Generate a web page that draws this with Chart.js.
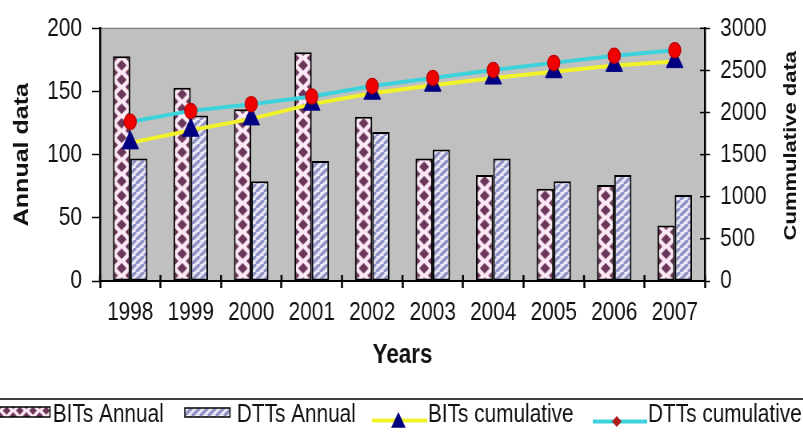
<!DOCTYPE html>
<html>
<head>
<meta charset="utf-8">
<script src="https://cdn.jsdelivr.net/npm/chart.js@4.4.1/dist/chart.umd.min.js"></script>
<style>
html,body{margin:0;padding:0;overflow:hidden;background:#fff;width:803px;height:437px}
#wrap{position:absolute;left:0;top:0;width:1004px;height:437px;transform:scaleX(0.8);transform-origin:0 0}
canvas{display:block}
</style>
</head>
<body>
<div id="wrap"><canvas id="c" width="1004" height="437"></canvas></div>
<script>
// ---------------- data ----------------
const years = ['1998','1999','2000','2001','2002','2003','2004','2005','2006','2007'];
const bitsAnnual = [178, 153, 136, 181, 130, 97, 84, 73, 76, 44];
const dttsAnnual = [97, 131, 79, 95, 118, 104, 97, 79, 84, 68];
const bitsCumulative = [1640, 1790, 1925, 2100, 2230, 2325, 2410, 2485, 2560, 2605];
const dttsCumulative = [1890, 2020, 2100, 2190, 2315, 2410, 2505, 2590, 2675, 2740];
const annualTicks = [0, 50, 100, 150, 200];
const cumulativeTicks = [0, 500, 1000, 1500, 2000, 2500, 3000];
const seriesNames = ['BITs Annual', 'DTTs Annual', 'BITs cumulative', 'DTTs cumulative'];
const xTitle = 'Years';
const yTitle = 'Annual data';
const y1Title = 'Cummulative data';

// ---------------- styling ----------------
const FONT = "'Liberation Sans', Arial, sans-serif";
const TXT = '#111';
const CAT_PCT = 0.57;
const PINK = '#fde9f6', PURPLE = '#6a3659';
const LAV = '#ecebf9', STRIPE = '#9195c6';

function makeDiamondTile() {
  const c = document.createElement('canvas');
  c.width = 22; c.height = 15;
  const g = c.getContext('2d');
  g.fillStyle = PINK; g.fillRect(0, 0, 22, 15);
  g.fillStyle = PURPLE;
  const hw = 6.3, hh = 5.4;
  const centers = [[11, 7.5], [0, 0], [22, 0], [0, 15], [22, 15]];
  centers.forEach(([cx, cy]) => {
    g.beginPath();
    g.moveTo(cx, cy - hh); g.lineTo(cx + hw, cy); g.lineTo(cx, cy + hh); g.lineTo(cx - hw, cy);
    g.closePath(); g.fill();
  });
  return c;
}
function makeStripeTile() {
  const c = document.createElement('canvas');
  c.width = 10; c.height = 8;
  const g = c.getContext('2d');
  g.fillStyle = LAV; g.fillRect(0, 0, 10, 8);
  g.strokeStyle = STRIPE; g.lineWidth = 3.4;
  [-10, 0, 10].forEach(o => {
    g.beginPath(); g.moveTo(o, 8); g.lineTo(o + 10, 0); g.stroke();
  });
  return c;
}
const diamondTile = makeDiamondTile();
const stripeTile = makeStripeTile();
const ctx0 = document.getElementById('c').getContext('2d');
const stripePattern = ctx0.createPattern(stripeTile, 'repeat');

function barPattern(c, which) {
  const xs = c.chart.scales.x;
  if (!xs || !xs.width || c.dataIndex === undefined) return PINK;
  const cw = xs.width / years.length;
  const chunk = cw * CAT_PCT / 2;
  const left = xs.getPixelForValue(c.dataIndex) - chunk + which * chunk;
  const p = c.chart.ctx.createPattern(diamondTile, 'repeat');
  p.setTransform(new DOMMatrix().translate(left, 0).scale(chunk / 22, 14.5 / 15));
  return p;
}

// ---------------- plugins ----------------
const plotBg = {
  id: 'plotBg',
  beforeDraw(chart) {
    const {ctx, chartArea: a} = chart;
    ctx.save();
    ctx.fillStyle = '#fff';
    ctx.fillRect(0, 0, chart.width, chart.height);
    ctx.fillStyle = '#c0c0c0';
    ctx.fillRect(a.left, a.top, a.right - a.left, a.bottom - a.top);
    ctx.strokeStyle = '#7a7a7a'; ctx.lineWidth = 1.2;
    ctx.strokeRect(a.left, a.top, a.right - a.left, a.bottom - a.top);
    ctx.restore();
  }
};

const innerTicks = {
  id: 'innerTicks',
  afterDraw(chart) {
    const {ctx, chartArea: a, scales} = chart;
    ctx.save();
    ctx.strokeStyle = '#000';
    ctx.lineWidth = 2.5;
    for (let i = 0; i <= years.length; i++) {
      const px = scales.x.getPixelForValue(i - 0.5);
      ctx.beginPath(); ctx.moveTo(px, a.bottom - 6); ctx.lineTo(px, a.bottom); ctx.stroke();
    }
    ctx.lineWidth = 1.5;
    cumulativeTicks.forEach(v => {
      const py = scales.y1.getPixelForValue(v);
      ctx.beginPath(); ctx.moveTo(a.right - 6.25, py); ctx.lineTo(a.right, py); ctx.stroke();
    });
    ctx.restore();
  }
};

const rightTitle = {
  id: 'rightTitle',
  afterDraw(chart) {
    const {ctx, chartArea: a} = chart;
    const s = chart.scales.y1;
    ctx.save();
    ctx.translate(s.right - 15.25, (a.top + a.bottom) / 2 - 9);
    ctx.rotate(-Math.PI / 2);
    ctx.font = 'bold 22px ' + FONT;
    ctx.fillStyle = TXT;
    ctx.textAlign = 'center';
    ctx.textBaseline = 'middle';
    ctx.fillText(y1Title, 0, 0);
    ctx.restore();
  }
};

function drawTriangle(ctx, x, y, r, color) {
  ctx.beginPath();
  ctx.moveTo(x, y - r);
  ctx.lineTo(x + r * Math.cos(Math.PI / 6), y + r / 2);
  ctx.lineTo(x - r * Math.cos(Math.PI / 6), y + r / 2);
  ctx.closePath();
  ctx.fillStyle = color; ctx.fill();
}

const excelLegend = {
  id: 'excelLegend',
  afterDraw(chart) {
    const ctx = chart.ctx;
    ctx.save();
    ctx.strokeStyle = '#000'; ctx.lineWidth = 1.5;
    ctx.beginPath(); ctx.moveTo(0, 399); ctx.lineTo(chart.width, 399); ctx.stroke();

    // BITs Annual key
    const dp = ctx.createPattern(diamondTile, 'repeat');
    dp.setTransform(new DOMMatrix().translate(0, 405).scale(0.75, 0.75));
    ctx.fillStyle = dp;
    ctx.fillRect(-4, 407, 66.5, 10);
    ctx.lineWidth = 1.5; ctx.strokeRect(-4, 407, 66.5, 10);
    // DTTs Annual key
    ctx.fillStyle = stripePattern;
    ctx.fillRect(231, 408, 56.5, 9);
    ctx.strokeRect(231, 408, 56.5, 9);
    // BITs cumulative key
    ctx.strokeStyle = '#f2f22a'; ctx.lineWidth = 4;
    ctx.beginPath(); ctx.moveTo(465, 420.5); ctx.lineTo(534, 420.5); ctx.stroke();
    drawTriangle(ctx, 498, 422.5, 10.5, '#000080');
    // DTTs cumulative key
    ctx.strokeStyle = '#3cd2dc'; ctx.lineWidth = 4;
    ctx.beginPath(); ctx.moveTo(741, 421.5); ctx.lineTo(809, 421.5); ctx.stroke();
    ctx.fillStyle = '#b01c1c';
    ctx.beginPath();
    ctx.moveTo(771, 416); ctx.lineTo(777, 421.5); ctx.lineTo(771, 427); ctx.lineTo(765, 421.5);
    ctx.closePath(); ctx.fill();

    ctx.font = '26px ' + FONT;
    ctx.fillStyle = TXT;
    ctx.textBaseline = 'middle';
    ctx.textAlign = 'left';
    const textX = [66, 296, 535, 810];
    seriesNames.forEach((n, i) => ctx.fillText(n, textX[i], 414.5));
    ctx.restore();
  }
};

// ---------------- chart ----------------
Chart.defaults.font.family = FONT;
Chart.defaults.color = TXT;

const plainTick = (v) => String(v);

new Chart(document.getElementById('c'), {
  type: 'bar',
  data: {
    labels: years,
    datasets: [
      {
        type: 'bar', label: seriesNames[0], data: bitsAnnual, yAxisID: 'y', order: 2,
        backgroundColor: (c) => barPattern(c, 0),
        borderColor: '#000', borderWidth: 2, borderSkipped: false,
        categoryPercentage: CAT_PCT, barPercentage: 1
      },
      {
        type: 'bar', label: seriesNames[1], data: dttsAnnual, yAxisID: 'y', order: 2,
        backgroundColor: stripePattern,
        borderColor: '#000', borderWidth: 2, borderSkipped: false,
        categoryPercentage: CAT_PCT, barPercentage: 1
      },
      {
        type: 'line', label: seriesNames[2], data: bitsCumulative, yAxisID: 'y1', order: 1,
        borderColor: '#f2f22a', borderWidth: 4, tension: 0,
        pointStyle: 'triangle', pointRadius: 12, pointBackgroundColor: '#000080',
        pointBorderColor: '#000080', pointBorderWidth: 1
      },
      {
        type: 'line', label: seriesNames[3], data: dttsCumulative, yAxisID: 'y1', order: 0,
        borderColor: '#3cd2dc', borderWidth: 4, tension: 0,
        pointStyle: 'circle', pointRadius: 7.5, pointBackgroundColor: '#f00000',
        pointBorderColor: '#c40000', pointBorderWidth: 1.5
      }
    ]
  },
  options: {
    responsive: false,
    animation: false,
    devicePixelRatio: 1,
    layout: {padding: {top: 24, left: 0, right: 0, bottom: 0}},
    plugins: {legend: {display: false}, tooltip: {enabled: false}, title: {display: false}},
    scales: {
      x: {
        type: 'category', offset: true,
        grid: {offset: true, drawOnChartArea: false, drawTicks: true, tickLength: 7, tickWidth: 2.5, tickColor: '#000'},
        border: {display: true, color: '#000', width: 2},
        ticks: {font: {size: 26}, color: TXT, padding: 9.5, maxRotation: 0, minRotation: 0, autoSkip: false},
        title: {display: true, text: xTitle, font: {size: 28, weight: 'bold'}, color: TXT, padding: {top: 0, bottom: 65}},
        afterFit(s) { s.height = 156; }
      },
      y: {
        position: 'left', min: annualTicks[0], max: annualTicks[annualTicks.length - 1],
        afterBuildTicks(s) { s.ticks = annualTicks.map(v => ({value: v})); },
        grid: {drawOnChartArea: false, drawTicks: true, tickLength: 10, tickWidth: 1.5, tickColor: '#000'},
        border: {display: true, color: '#000', width: 2.5},
        ticks: {font: {size: 26}, color: TXT, padding: 12.5, callback: plainTick},
        title: {display: true, text: yTitle, font: {size: 25, weight: 'bold'}, color: TXT, padding: 13},
        afterFit(s) { s.width = 125; }
      },
      y1: {
        position: 'right', min: cumulativeTicks[0], max: cumulativeTicks[cumulativeTicks.length - 1],
        afterBuildTicks(s) { s.ticks = cumulativeTicks.map(v => ({value: v})); },
        grid: {drawOnChartArea: false, drawTicks: true, tickLength: 6.25, tickWidth: 1.5, tickColor: '#000'},
        border: {display: true, color: '#000', width: 2.5},
        ticks: {font: {size: 26}, color: TXT, padding: 12.75, callback: plainTick},
        title: {display: false, text: y1Title},
        afterFit(s) { s.width = 122.75; }
      }
    }
  },
  plugins: [plotBg, innerTicks, rightTitle, excelLegend]
});
</script>
</body>
</html>
